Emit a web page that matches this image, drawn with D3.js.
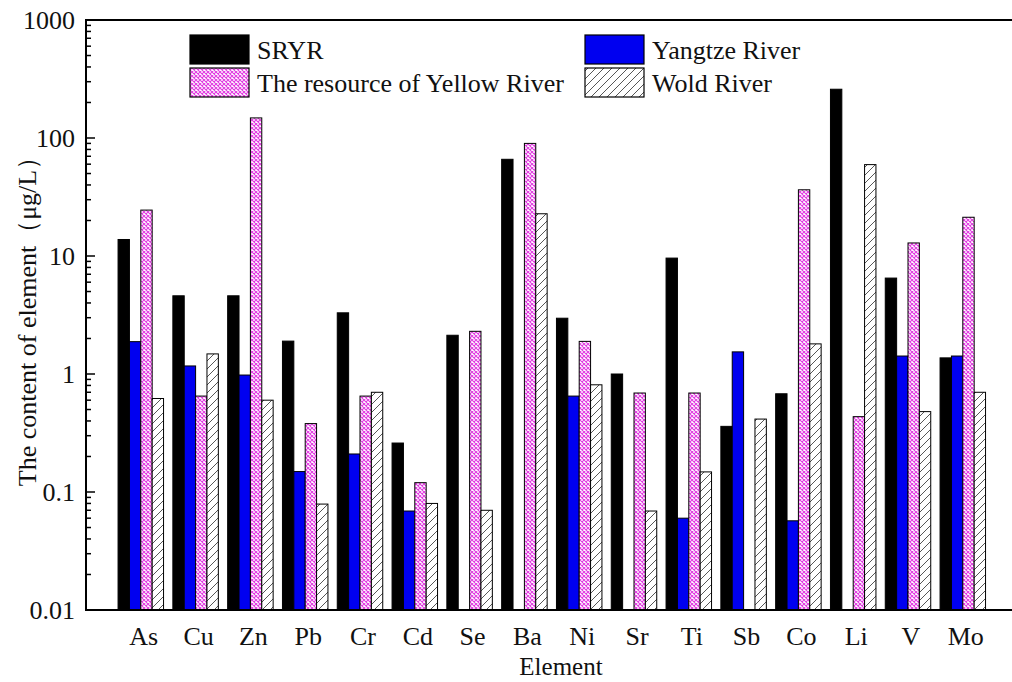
<!DOCTYPE html>
<html><head><meta charset="utf-8">
<script src="https://cdn.jsdelivr.net/npm/d3@7"></script>
<style>body{margin:0;background:#fff}svg{display:block}text{font-family:"Liberation Serif","Times New Roman",serif;fill:#111}</style>
</head><body><svg id="c" width="1012" height="682"></svg>
<script>
const categories = ["As","Cu","Zn","Pb","Cr","Cd","Se","Ba","Ni","Sr","Ti","Sb","Co","Li","V","Mo"];
const seriesNames = ["SRYR","Yangtze River","The resource of Yellow River","Wold River"];
const sryr    = [13.8,4.6,4.6,1.9,3.3,0.26,2.13,66,2.97,1.0,9.6,0.36,0.68,259,6.5,1.37];
const yangtze = [1.88,1.17,0.98,0.149,0.21,0.069,null,null,0.65,null,0.06,1.54,0.057,null,1.42,1.42];
const yellow  = [24.5,0.65,148,0.38,0.65,0.12,2.3,90,1.89,0.69,0.69,null,36.4,0.435,12.9,21.3];
const wold    = [0.62,1.48,0.60,0.079,0.70,0.08,0.070,22.8,0.81,0.069,0.148,0.415,1.80,59.5,0.48,0.70];
const yTicks = [0.01,0.1,1,10,100,1000];
const yTickLabels = ["0.01","0.1","1","10","100","1000"];

const svg = d3.select("#c");
const L = 86, T = 20, B = 610, step = 54.8;
const R = L + 17*step;
const defs = svg.append("defs");
const p1 = defs.append("pattern").attr("id","cross").attr("patternUnits","userSpaceOnUse").attr("width",4).attr("height",4);
p1.append("rect").attr("width",4).attr("height",4).attr("fill","#fff");
p1.append("path").attr("d","M0,0L4,4M4,0L0,4").attr("stroke","#e23be2").attr("stroke-width",1.1);
const p2 = defs.append("pattern").attr("id","hatch").attr("patternUnits","userSpaceOnUse").attr("width",8).attr("height",8);
p2.append("rect").attr("width",8).attr("height",8).attr("fill","#fff");
p2.append("path").attr("d","M-2,10L10,-2M-2,2L2,-2M6,10L10,6").attr("stroke","#444").attr("stroke-width",0.9);

const fills = ["#000","#0000f0","url(#cross)","url(#hatch)"];
const data = [sryr,yangtze,yellow,wold];

const x0 = d3.scaleBand().domain(categories).range([L+step*0.5, L+step*16.5]).padding(0);
const bw = x0.bandwidth();
const x1 = d3.scaleBand().domain(seriesNames).range([bw*0.085, bw*0.915]).padding(0);
const y = d3.scaleLog().domain([0.01,1000]).range([B,T]);

const g = svg.append("g");
categories.forEach((c,i)=>{
  seriesNames.forEach((s,j)=>{
    const v = data[j][i];
    if (v==null) return;
    g.append("rect")
      .attr("x", x0(c)+x1(s)).attr("width", x1.bandwidth())
      .attr("y", y(v)).attr("height", B - y(v))
      .attr("fill", fills[j]).attr("stroke","#000").attr("stroke-width",1);
  });
});

const ya = svg.append("g");
const minor = [];
for (let e=-2;e<3;e++) for (let k=2;k<10;k++) minor.push(k*Math.pow(10,e));
minor.forEach(v=>ya.append("line").attr("x1",L).attr("x2",L+5).attr("y1",y(v)).attr("y2",y(v)).attr("stroke","#000").attr("stroke-width",1.5));
yTicks.forEach((v,i)=>{
  ya.append("line").attr("x1",L).attr("x2",L+9).attr("y1",y(v)).attr("y2",y(v)).attr("stroke","#000").attr("stroke-width",1.5);
  ya.append("text").attr("x",L-11).attr("y",y(v)).attr("dy","0.35em").attr("text-anchor","end").attr("font-size",26).text(yTickLabels[i]);
});
svg.append("line").attr("x1",L).attr("x2",L).attr("y1",T).attr("y2",B).attr("stroke","#000").attr("stroke-width",2);
svg.append("line").attr("x1",L-1).attr("x2",R).attr("y1",T).attr("y2",T).attr("stroke","#000").attr("stroke-width",2);
svg.append("line").attr("x1",L-1).attr("x2",R).attr("y1",B).attr("y2",B).attr("stroke","#000").attr("stroke-width",2);

categories.forEach(c=>{
  svg.append("text").attr("x",x0(c)+bw/2+3).attr("y",645).attr("text-anchor","middle").attr("font-size",26).text(c);
});
svg.append("text").attr("x",561).attr("y",675).attr("text-anchor","middle").attr("font-size",25).text("Element");
svg.append("text").attr("transform","translate(36,315) rotate(-90)").attr("text-anchor","middle").attr("font-size",26).text("The content of  element（μg/L）");

const leg = [[190,35,0],[585,35,1],[190,68,2],[585,68,3]];
leg.forEach(([lx,ly,j])=>{
  svg.append("rect").attr("x",lx).attr("y",ly).attr("width",59).attr("height",29).attr("fill",fills[j]).attr("stroke","#000").attr("stroke-width",1.2);
  svg.append("text").attr("x",lx+67).attr("y",ly+15).attr("dy","0.35em").attr("font-size",26).text(seriesNames[j]);
});
</script></body></html>
